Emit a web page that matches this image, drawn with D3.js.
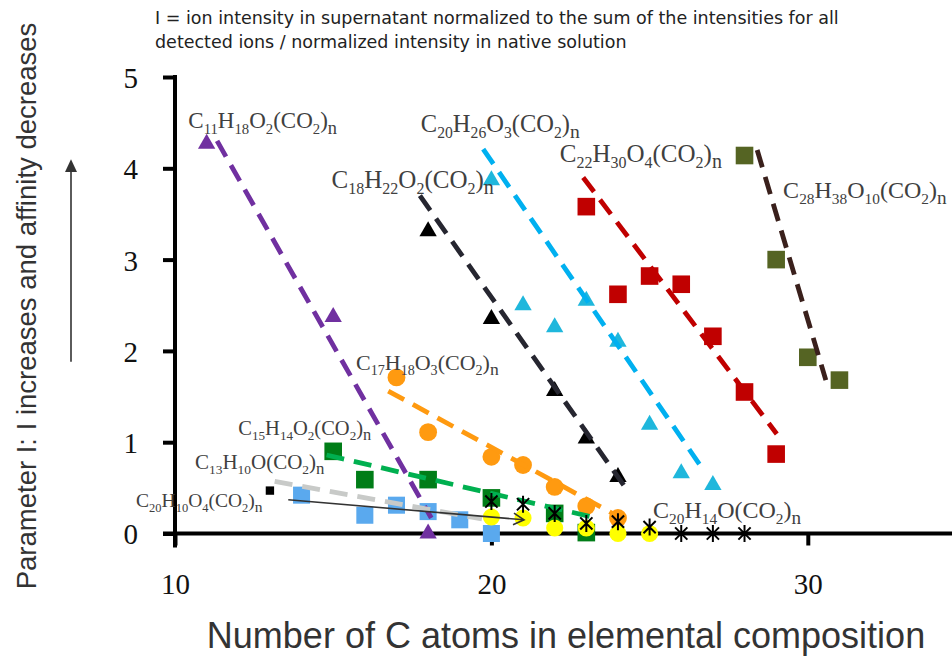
<!DOCTYPE html>
<html>
<head>
<meta charset="utf-8">
<script src="https://cdn.jsdelivr.net/npm/d3@7"></script>
<style>
  html, body { margin: 0; padding: 0; background: #fff; }
  svg { display: block; }
</style>
</head>
<body>
<svg id="chart" width="952" height="657"></svg>
<script>
// ---- data: (number of C atoms, parameter I) ----
const c11h18o2 = [[11, 4.27], [15, 2.37], [18, 0.0]];
const c18h22o2 = [[18, 3.31], [20, 2.35], [22, 1.56], [23, 1.04], [24, 0.62]];
const c20h26o3 = [[20, 3.87], [21, 2.50], [22, 2.26], [23, 2.55], [24, 2.10], [25, 1.19], [26, 0.66], [27, 0.53]];
const c22h30o4 = [[23, 3.58], [24, 2.62], [25, 2.82], [26, 2.73], [27, 2.16], [28, 1.55], [29, 0.87]];
const c28h38o10 = [[28, 4.14], [29, 3.00], [30, 1.93], [31, 1.68]];
const c17h18o3 = [[17, 1.71], [18, 1.11], [20, 0.84], [21, 0.75], [22, 0.51], [23, 0.30], [24, 0.17]];
const c15h14o2 = [[15, 0.90], [16, 0.59], [18, 0.59], [20, 0.39], [22, 0.22], [23, 0.01]];
const c13h10o = [[14, 0.42], [16, 0.20], [17, 0.31], [18, 0.24], [19, 0.15], [20, 0.0]];
const c20h10o4 = [[20, 0.18], [21, 0.17], [22, 0.06], [23, 0.06], [24, 0.0], [25, 0.0]];
const c20h14o = [[20, 0.35], [21, 0.32], [22, 0.22], [23, 0.11], [24, 0.13], [25, 0.07], [26, 0.0], [27, 0.0], [28, 0.0]];
const c20h10o4Key = [[13, 0.47]];

// trend lines (start, end) for each homologous series
const trendC11H18O2 = [[11.33, 4.30], [18.1, 0.17]];
const trendC18H22O2 = [[17.74, 3.70], [24.22, 0.51]];
const trendC20H26O3 = [[19.74, 4.21], [26.75, 0.67]];
const trendC22H30O4 = [[22.9, 3.90], [29.02, 1.09]];
const trendC28H38O10 = [[28.4, 4.20], [30.57, 1.68]];
const trendC17H18O3 = [[16.74, 1.56], [24.2, 0.15]];
const trendC15H14O2 = [[14.79, 0.86], [23.32, 0.17]];
const trendC13H10O = [[13.15, 0.57], [19.7, 0.16]];
const arrowC20H10O4 = [[13.58, 0.37], [21.03, 0.15]];

const xTicks = [10, 20, 30];
const yTicks = [0, 1, 2, 3, 4, 5];

const seriesLabels = ["C11H18O2(CO2)n", "C18H22O2(CO2)n", "C20H26O3(CO2)n", "C22H30O4(CO2)n",
  "C28H38O10(CO2)n", "C17H18O3(CO2)n", "C15H14O2(CO2)n", "C13H10O(CO2)n", "C20H10O4(CO2)n", "C20H14O(CO2)n"];
// label anchors (C atoms, parameter I) for the text start / baseline
const labelAnchors = [[10.42, 4.44], [14.95, 3.78], [17.77, 4.40], [22.16, 4.07], [29.22, 3.67],
  [15.72, 1.79], [12.0, 1.08], [10.63, 0.71], [8.77, 0.29], [25.11, 0.17]];
const labelSizes = [23, 25, 24.5, 25, 24, 22, 20.5, 21, 19.5, 24];

const noteLines = ["I = ion intensity in supernatant normalized to the sum of the intensities for all",
  "detected ions / normalized intensity in native solution"];
const xTitle = "Number of C atoms in elemental composition";
const yTitle = "Parameter I: I increases and affinity decreases";

// ---- scales ----
const svg = d3.select("#chart");
const x = d3.scaleLinear().domain([10, 35]).range([175, 966]);
const y = d3.scaleLinear().domain([0, 5]).range([533.5, 77]);

// ---- axes ----
const axisStyle = g => {
  g.selectAll(".domain").attr("stroke", "#000").attr("stroke-width", 4);
  g.selectAll(".tick line").attr("stroke", "#000").attr("stroke-width", 4);
  g.selectAll(".tick text").attr("fill", "#111")
    .attr("font-family", "'Liberation Serif', 'DejaVu Serif', serif")
    .attr("font-size", 29);
};

svg.append("g")
  .attr("transform", `translate(0,${y(0)})`)
  .call(d3.axisBottom(x).tickValues(xTicks).tickFormat(d3.format("d")).tickSize(12).tickSizeOuter(0).tickPadding(28))
  .call(axisStyle)
  .call(g => g.select(".domain").attr("d", `M${x(10) - 12},0H952`));

svg.append("g")
  .attr("transform", `translate(${x(10)},0)`)
  .call(d3.axisLeft(y).tickValues(yTicks).tickFormat(d3.format("d")).tickSize(12).tickSizeOuter(0).tickPadding(25))
  .call(axisStyle)
  .call(g => g.select(".domain").attr("d", `M0,${y(0) + 14}V${y(5) - 2}`))
  .call(g => g.selectAll(".tick text").attr("dy", "0.36em"));

// ---- titles ----
svg.append("text")
  .attr("x", 566).attr("y", 648)
  .attr("text-anchor", "middle")
  .attr("font-family", "'Liberation Sans', Arial, sans-serif")
  .attr("font-size", 36)
  .attr("fill", "#333")
  .text(xTitle);

svg.append("text")
  .attr("transform", "translate(36,306) rotate(-90)")
  .attr("text-anchor", "middle")
  .attr("font-family", "'Liberation Sans', Arial, sans-serif")
  .attr("font-size", 27.5)
  .attr("fill", "#333")
  .text(yTitle);

const note = svg.append("text")
  .attr("font-family", "'DejaVu Sans', sans-serif")
  .attr("font-size", 17.5)
  .attr("fill", "#222");
noteLines.forEach((t, i) => note.append("tspan").attr("x", 155).attr("y", 24 + i * 24).text(t));

// arrow next to the y title
svg.append("line")
  .attr("x1", 71).attr("x2", 71)
  .attr("y1", y(1.88)).attr("y2", y(4.0))
  .attr("stroke", "#333").attr("stroke-width", 1.6);
svg.append("path")
  .attr("d", `M71,${y(4.1)} L77,${y(3.96)} L65,${y(3.96)} Z`)
  .attr("fill", "#333");

// ---- marks ----
const plot = svg.append("g");
const sym = (type, size) => d3.symbol().type(type).size(size)();

function markers(data, type, size, color) {
  plot.append("g").selectAll("path").data(data).join("path")
    .attr("transform", d => `translate(${x(d[0])},${y(d[1])})`)
    .attr("d", sym(type, size))
    .attr("fill", color);
}

function trend(ends, color, width, dash) {
  plot.append("line")
    .attr("x1", x(ends[0][0])).attr("y1", y(ends[0][1]))
    .attr("x2", x(ends[1][0])).attr("y2", y(ends[1][1]))
    .attr("stroke", color).attr("stroke-width", width)
    .attr("stroke-dasharray", dash);
}

const triSize = 130, sqSize = 310, circSize = 250;

markers(c13h10o, d3.symbolSquare, 290, "#5aa9ee");
markers(c15h14o2, d3.symbolSquare, sqSize, "#007d17");
markers(c22h30o4, d3.symbolSquare, sqSize, "#c00000");
markers(c28h38o10, d3.symbolSquare, sqSize, "#556423");
markers(c11h18o2, d3.symbolTriangle, triSize, "#7030a0");
markers(c18h22o2, d3.symbolTriangle, triSize, "#000");
markers(c20h26o3, d3.symbolTriangle, triSize, "#1fb7dc");
markers(c17h18o3, d3.symbolCircle, circSize, "#ff9a10");
markers(c20h10o4Key, d3.symbolSquare, 70, "#000");

const dash = "18,10";
trend(trendC11H18O2, "#7030a0", 4.8, dash);
trend(trendC18H22O2, "#262630", 4.8, dash);
trend(trendC20H26O3, "#00b0f0", 4.8, dash);
trend(trendC22H30O4, "#c00000", 4.8, dash);
trend(trendC28H38O10, "#3a201c", 4.8, dash);
trend(trendC17H18O3, "#ff9a10", 4.8, dash);
trend(trendC15H14O2, "#00b050", 4.8, dash);
trend(trendC13H10O, "#c8cac8", 4.8, dash);

markers(c20h10o4, d3.symbolCircle, 230, "#ffff00");

// asterisk markers
const ar = 8.5, ad = ar * 0.72;
plot.append("g").selectAll("path").data(c20h14o).join("path")
  .attr("transform", d => `translate(${x(d[0])},${y(d[1])})`)
  .attr("d", `M0,${-ar}V${ar}M${-ad},${-ad}L${ad},${ad}M${-ad},${ad}L${ad},${-ad}`)
  .attr("stroke", "#000").attr("stroke-width", 2).attr("fill", "none");

// arrow pointing at the C20H10O4 series
{
  const [p0, p1] = arrowC20H10O4;
  const x0 = x(p0[0]), y0 = y(p0[1]), x1 = x(p1[0]), y1 = y(p1[1]);
  const ang = Math.atan2(y1 - y0, x1 - x0), L = 12, spread = 0.5;
  plot.append("line").attr("x1", x0).attr("y1", y0).attr("x2", x1).attr("y2", y1)
    .attr("stroke", "#333").attr("stroke-width", 1.6);
  plot.append("path")
    .attr("d", `M${x1 - L * Math.cos(ang - spread)},${y1 - L * Math.sin(ang - spread)}L${x1},${y1}L${x1 - L * Math.cos(ang + spread)},${y1 - L * Math.sin(ang + spread)}`)
    .attr("stroke", "#333").attr("stroke-width", 1.6).attr("fill", "none");
}

// ---- series labels with subscripts ----
function formula(str, px, py, size) {
  const t = svg.append("text")
    .attr("x", px).attr("y", py)
    .attr("font-family", "'Liberation Serif', 'DejaVu Serif', serif")
    .attr("font-size", size)
    .attr("fill", "#404040");
  const parts = str.match(/\d+|n$|[^\d]+?(?=\d|n$|$)|[^\d]+/g);
  let shifted = false;
  const shift = size * 0.24;
  parts.forEach((p, i) => {
    const isSub = /^\d+$/.test(p) || (p === "n" && i === parts.length - 1);
    const ts = t.append("tspan").text(p);
    if (isSub && !shifted) { ts.attr("dy", shift); shifted = true; }
    else if (!isSub && shifted) { ts.attr("dy", -shift); shifted = false; }
    if (isSub) ts.attr("font-size", p === "n" ? size * 0.8 : size * 0.64);
  });
}
seriesLabels.forEach((s, i) => formula(s, x(labelAnchors[i][0]), y(labelAnchors[i][1]), labelSizes[i]));
</script>
</body>
</html>
